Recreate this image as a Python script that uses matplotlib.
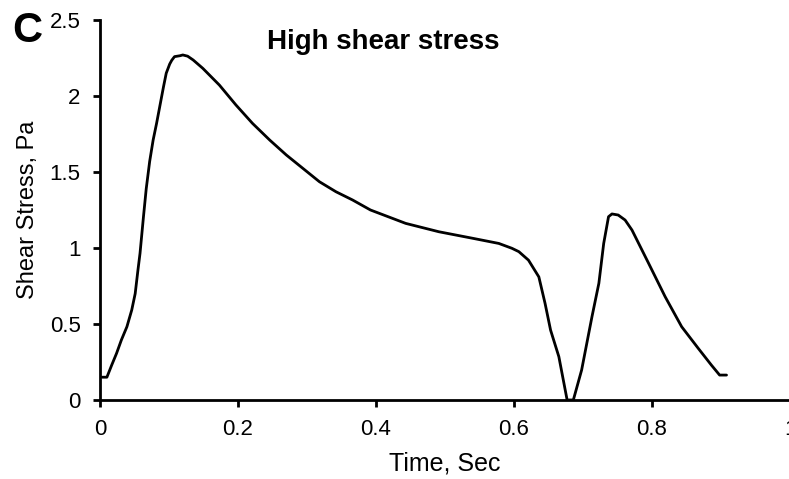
import matplotlib
matplotlib.use("Agg")
import matplotlib.pyplot as plt

plt.rcParams.update({
    "font.family": ["Liberation Sans", "DejaVu Sans"],
    "font.size": 16,
    "axes.linewidth": 2.0,
})

# wall shear stress over one cardiac cycle
time_s = [0.003, 0.010, 0.017, 0.024, 0.031, 0.039, 0.046, 0.051, 0.055, 0.058,
          0.063, 0.067, 0.072, 0.077, 0.082, 0.087, 0.092, 0.096, 0.101, 0.104,
          0.108, 0.116, 0.120, 0.127, 0.135, 0.149, 0.173, 0.197, 0.221, 0.246,
          0.270, 0.294, 0.318, 0.342, 0.366, 0.392, 0.443, 0.491, 0.540, 0.578,
          0.597, 0.607, 0.621, 0.636, 0.645, 0.653, 0.665, 0.677, 0.686, 0.698,
          0.713, 0.723, 0.730, 0.737, 0.742, 0.751, 0.761, 0.771, 0.795, 0.819,
          0.843, 0.867, 0.886, 0.898, 0.908]
stress_pa = [0.15, 0.15, 0.23, 0.307, 0.395, 0.482, 0.592, 0.70, 0.855, 0.965,
             1.206, 1.39, 1.57, 1.71, 1.82, 1.94, 2.06, 2.15, 2.21, 2.235,
             2.259, 2.265, 2.27, 2.262, 2.237, 2.182, 2.072, 1.941, 1.82, 1.71,
             1.612, 1.524, 1.436, 1.37, 1.316, 1.25, 1.162, 1.107, 1.064, 1.03,
             0.998, 0.976, 0.92, 0.81, 0.636, 0.46, 0.285, 0.0, 0.0, 0.197,
             0.548, 0.768, 1.03, 1.206, 1.224, 1.217, 1.184, 1.118, 0.90, 0.68,
             0.482, 0.34, 0.23, 0.164, 0.164]

x_ticks = [0, 0.2, 0.4, 0.6, 0.8, 1]
x_tick_labels = ["0", "0.2", "0.4", "0.6", "0.8", "1"]
y_ticks = [0, 0.5, 1, 1.5, 2, 2.5]
y_tick_labels = ["0", "0.5", "1", "1.5", "2", "2.5"]

W, H = 789, 479
fig = plt.figure(figsize=(W / 100, H / 100), dpi=100)
ax = fig.add_axes([100 / W, 79 / H, 690 / W, 380 / H])

ax.plot(time_s, stress_pa, color="black", lw=2.0,
        solid_joinstyle="round", solid_capstyle="round")

ax.set_xlim(0, 1)
ax.set_ylim(0, 2.5)
ax.set_xticks(x_ticks)
ax.set_xticklabels(x_tick_labels)
ax.set_yticks(y_ticks)
ax.set_yticklabels(y_tick_labels)
ax.tick_params(direction="out", length=5, width=2.0, pad=9)

for side in ["top", "right"]:
    ax.spines[side].set_visible(False)

ax.set_xlabel("Time, Sec", fontsize=18, labelpad=8)
ax.set_ylabel("Shear Stress, Pa", fontsize=17)
ax.yaxis.set_label_coords(-0.088, 0.5)

fig.text(383 / W, 1 - 42 / H, "High shear stress", fontsize=20,
         fontweight="bold", ha="center", va="center")
fig.text(12 / W, 1 - 31 / H, "C", fontsize=30, fontweight="bold",
         ha="left", va="center")

fig.savefig("out.png", dpi=100)
